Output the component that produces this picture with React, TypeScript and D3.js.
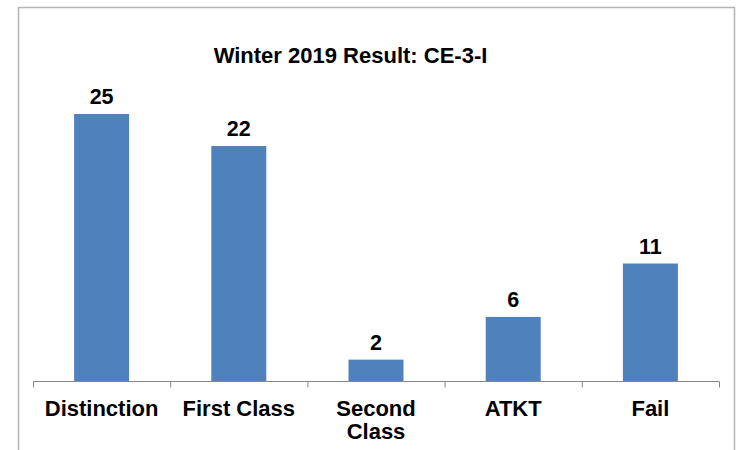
import React from "react";
import * as d3 from "d3";

const categories: string[][] = [["Distinction"], ["First Class"], ["Second", "Class"], ["ATKT"], ["Fail"]];
const values: number[] = [25, 22, 2, 6, 11];
const title = "Winter 2019 Result: CE-3-I";

const W = 738;
const H = 450;
const FONT = "'Liberation Sans', Arial, sans-serif";

export default function App() {
  const keys = categories.map((c) => c.join(" "));
  const x = d3.scaleBand<string>().domain(keys).range([33, 719]).paddingInner(0).paddingOuter(0);
  const y = d3.scaleLinear().domain([0, 30]).range([381, 60.6]);
  const bw = 55;
  const ticks = [...keys.map((k) => x(k)!), 719];

  return (
    <svg width={W} height={H} style={{ position: "absolute", left: 0, top: 0, background: "#fff" }} fontFamily={FONT}>
      <rect x={0} y={0} width={W} height={H} fill="#fff" />
      <path d="M18.5,460 V7.5 H734.5 V460" fill="none" stroke="#b4b4b4" strokeWidth={1.5} />
      <text x={350.5} y={62.5} textAnchor="middle" fontSize={22} fontWeight="bold" fill="#000">
        {title}
      </text>
      {keys.map((k, i) => {
        const cx = x(k)! + x.bandwidth() / 2;
        return (
          <g key={k}>
            <rect x={cx - bw / 2} y={y(values[i])} width={bw} height={y(0) - y(values[i])} fill="#4F81BD" />
            <text x={cx} y={y(values[i]) - 10} textAnchor="middle" fontSize={21.5} fontWeight="bold" fill="#000">
              {values[i]}
            </text>
            <text textAnchor="middle" fontSize={22} fontWeight="bold" fill="#000">
              {categories[i].map((line, j) => (
                <tspan key={j} x={cx} y={415.5 + j * 23.3}>
                  {line}
                </tspan>
              ))}
            </text>
          </g>
        );
      })}
      <line x1={33} x2={719} y1={381.5} y2={381.5} stroke="#868686" strokeWidth={1} />
      {ticks.map((t, i) => (
        <line key={i} x1={t + 0.5} x2={t + 0.5} y1={381.5} y2={387.5} stroke="#868686" strokeWidth={1} />
      ))}
    </svg>
  );
}
